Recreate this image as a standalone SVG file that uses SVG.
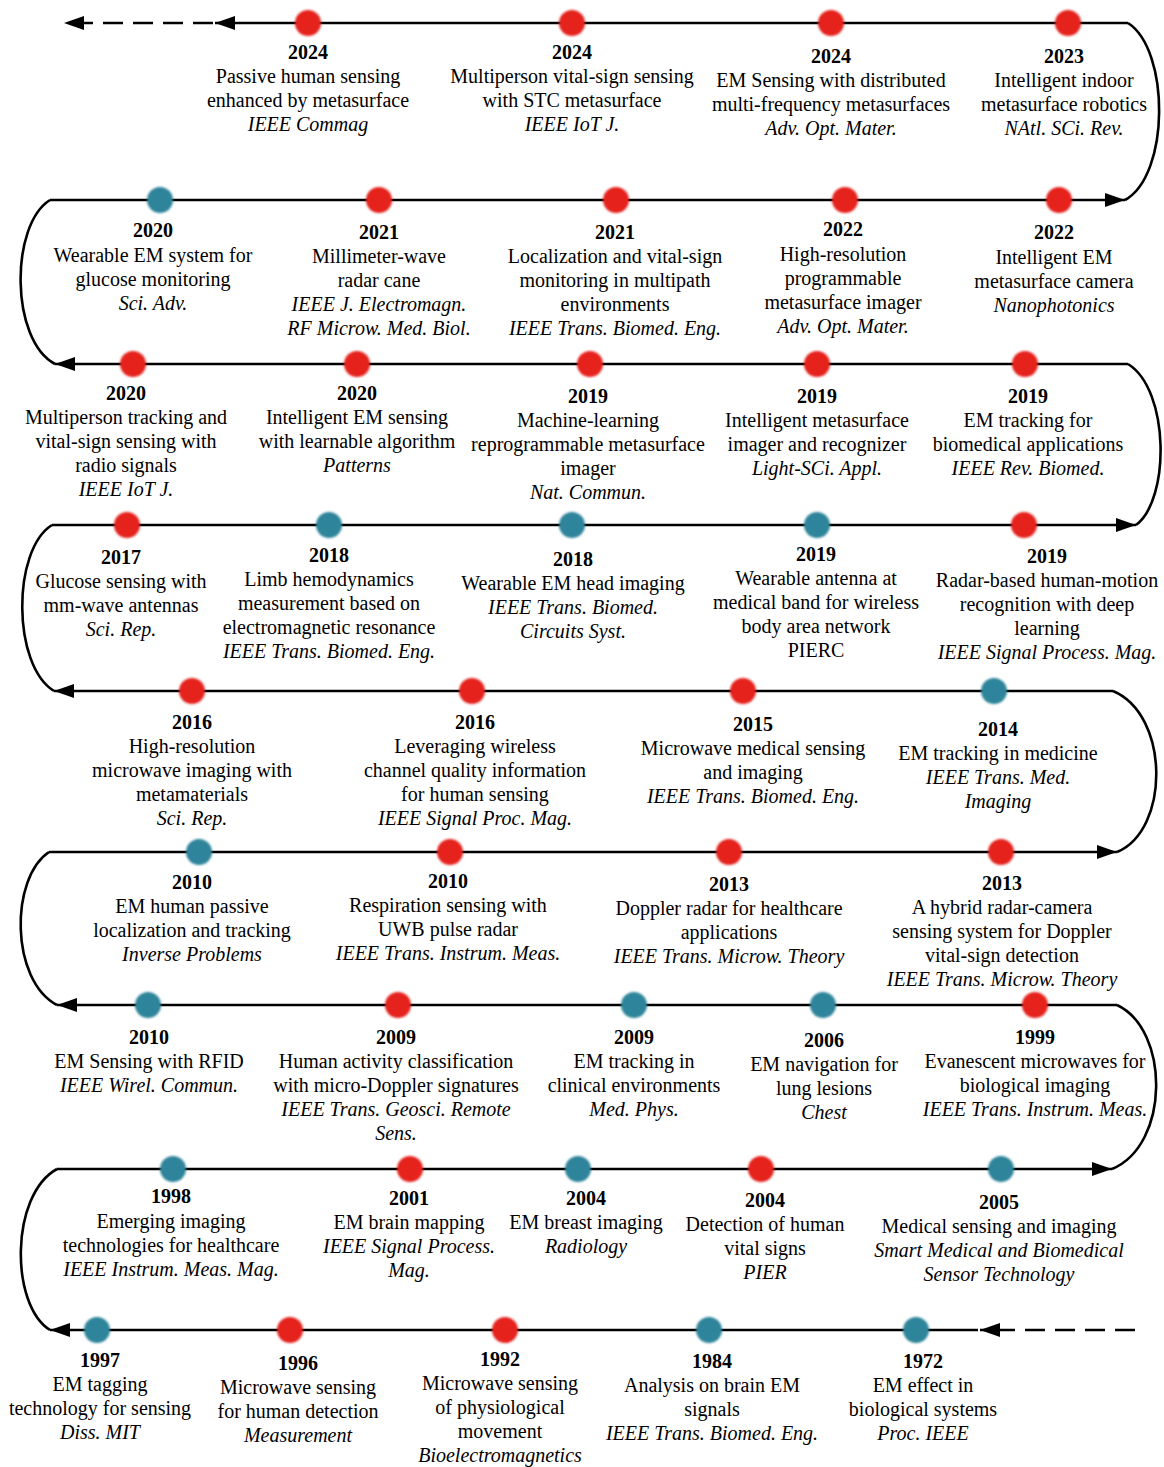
<svg xmlns="http://www.w3.org/2000/svg" width="1164" height="1467" viewBox="0 0 1164 1467">
<style>
text{font-family:"Liberation Serif","Times New Roman",serif;font-size:20px;fill:#000;text-anchor:middle;dominant-baseline:central}
.y{font-weight:bold}
.j{font-style:italic}
.ln{fill:none;stroke:#000;stroke-width:2.6}
.ds{fill:none;stroke:#000;stroke-width:2.6;stroke-dasharray:20 10}
.r{fill:#e5221d;filter:url(#bl)}
.b{fill:#2f849a;filter:url(#bl)}
</style>
<defs>
<filter id="bl" x="-30%" y="-30%" width="160%" height="160%"><feGaussianBlur stdDeviation="1.1"/></filter>
<marker id="ah" viewBox="0 0 20 14" refX="20" refY="7" markerWidth="20" markerHeight="14" markerUnits="userSpaceOnUse" orient="auto"><path d="M0,0 L20,7 L0,14 Z" fill="#000"/></marker>
</defs>
<g id="connectors">
<path class="ds" d="M213,23 H64" marker-end="url(#ah)"/>
<path class="ln" d="M1128,23 H215" marker-end="url(#ah)"/>
<path class="ln" d="M1128,23 C1170,50 1170,175 1125,200"/>
<path class="ln" d="M50,200 H1125" marker-end="url(#ah)"/>
<path class="ln" d="M50,200 C10,225 10,340 55,364"/>
<path class="ln" d="M1128,364 H55" marker-end="url(#ah)"/>
<path class="ln" d="M1128,364 C1170,390 1170,500 1136,525"/>
<path class="ln" d="M52,525 H1136" marker-end="url(#ah)"/>
<path class="ln" d="M52,525 C12,550 12,665 54,691"/>
<path class="ln" d="M1113,691 H54" marker-end="url(#ah)"/>
<path class="ln" d="M1113,691 C1170,715 1170,830 1117,852"/>
<path class="ln" d="M49,852 H1117" marker-end="url(#ah)"/>
<path class="ln" d="M49,852 C10,878 10,980 57,1005"/>
<path class="ln" d="M1117,1005 H57" marker-end="url(#ah)"/>
<path class="ln" d="M1117,1005 C1170,1030 1170,1145 1112,1169"/>
<path class="ln" d="M57,1169 H1112" marker-end="url(#ah)"/>
<path class="ln" d="M57,1169 C10,1195 10,1305 50,1330"/>
<path class="ds" d="M1135,1330 H980" marker-end="url(#ah)"/>
<path class="ln" d="M978,1330 H50" marker-end="url(#ah)"/>
</g>

<g id="n1"><circle class="r" cx="308" cy="23" r="13"/><text class="y" x="308" y="52">2024</text><text x="308" y="76">Passive human sensing</text><text x="308" y="100">enhanced by metasurface</text><text class="j" x="308" y="124">IEEE Commag</text></g>
<g id="n2"><circle class="r" cx="572" cy="23" r="13"/><text class="y" x="572" y="52">2024</text><text x="572" y="76">Multiperson vital-sign sensing</text><text x="572" y="100">with STC metasurface</text><text class="j" x="572" y="124">IEEE IoT J.</text></g>
<g id="n3"><circle class="r" cx="831" cy="23" r="13"/><text class="y" x="831" y="56">2024</text><text x="831" y="80">EM Sensing with distributed</text><text x="831" y="104">multi-frequency metasurfaces</text><text class="j" x="831" y="128">Adv. Opt. Mater.</text></g>
<g id="n4"><circle class="r" cx="1068" cy="23" r="13"/><text class="y" x="1064" y="56">2023</text><text x="1064" y="80">Intelligent indoor</text><text x="1064" y="104">metasurface robotics</text><text class="j" x="1064" y="128">NAtl. SCi. Rev.</text></g>

<g id="n5"><circle class="b" cx="160" cy="200" r="13"/><text class="y" x="153" y="230">2020</text><text x="153" y="255">Wearable EM system for</text><text x="153" y="279">glucose monitoring</text><text class="j" x="153" y="303">Sci. Adv.</text></g>
<g id="n6"><circle class="r" cx="379" cy="200" r="13"/><text class="y" x="379" y="232">2021</text><text x="379" y="256">Millimeter-wave</text><text x="379" y="280">radar cane</text><text class="j" x="379" y="304">IEEE J. Electromagn.</text><text class="j" x="379" y="328">RF Microw. Med. Biol.</text></g>
<g id="n7"><circle class="r" cx="616" cy="200" r="13"/><text class="y" x="615" y="232">2021</text><text x="615" y="256">Localization and vital-sign</text><text x="615" y="280">monitoring in multipath</text><text x="615" y="304">environments</text><text class="j" x="615" y="328">IEEE Trans. Biomed. Eng.</text></g>
<g id="n8"><circle class="r" cx="845" cy="200" r="13"/><text class="y" x="843" y="229">2022</text><text x="843" y="254">High-resolution</text><text x="843" y="278">programmable</text><text x="843" y="302">metasurface imager</text><text class="j" x="843" y="326">Adv. Opt. Mater.</text></g>
<g id="n9"><circle class="r" cx="1059" cy="200" r="13"/><text class="y" x="1054" y="232">2022</text><text x="1054" y="257">Intelligent EM</text><text x="1054" y="281">metasurface camera</text><text class="j" x="1054" y="305">Nanophotonics</text></g>

<g id="n10"><circle class="r" cx="133" cy="364" r="13"/><text class="y" x="126" y="393">2020</text><text x="126" y="417">Multiperson tracking and</text><text x="126" y="441">vital-sign sensing with</text><text x="126" y="465">radio signals</text><text class="j" x="126" y="489">IEEE IoT J.</text></g>
<g id="n11"><circle class="r" cx="357" cy="364" r="13"/><text class="y" x="357" y="393">2020</text><text x="357" y="417">Intelligent EM sensing</text><text x="357" y="441">with learnable algorithm</text><text class="j" x="357" y="465">Patterns</text></g>
<g id="n12"><circle class="r" cx="590" cy="364" r="13"/><text class="y" x="588" y="396">2019</text><text x="588" y="420">Machine-learning</text><text x="588" y="444">reprogrammable metasurface</text><text x="588" y="468">imager</text><text class="j" x="588" y="492">Nat. Commun.</text></g>
<g id="n13"><circle class="r" cx="817" cy="364" r="13"/><text class="y" x="817" y="396">2019</text><text x="817" y="420">Intelligent metasurface</text><text x="817" y="444">imager and recognizer</text><text class="j" x="817" y="468">Light-SCi. Appl.</text></g>
<g id="n14"><circle class="r" cx="1025" cy="364" r="13"/><text class="y" x="1028" y="396">2019</text><text x="1028" y="420">EM tracking for</text><text x="1028" y="444">biomedical applications</text><text class="j" x="1028" y="468">IEEE Rev. Biomed.</text></g>

<g id="n15"><circle class="r" cx="127" cy="525" r="13"/><text class="y" x="121" y="557">2017</text><text x="121" y="581">Glucose sensing with</text><text x="121" y="605">mm-wave antennas</text><text class="j" x="121" y="629">Sci. Rep.</text></g>
<g id="n16"><circle class="b" cx="329" cy="525" r="13"/><text class="y" x="329" y="555">2018</text><text x="329" y="579">Limb hemodynamics</text><text x="329" y="603">measurement based on</text><text x="329" y="627">electromagnetic resonance</text><text class="j" x="329" y="651">IEEE Trans. Biomed. Eng.</text></g>
<g id="n17"><circle class="b" cx="572" cy="525" r="13"/><text class="y" x="573" y="559">2018</text><text x="573" y="583">Wearable EM head imaging</text><text class="j" x="573" y="607">IEEE Trans. Biomed.</text><text class="j" x="573" y="631">Circuits Syst.</text></g>
<g id="n18"><circle class="b" cx="817" cy="525" r="13"/><text class="y" x="816" y="554">2019</text><text x="816" y="578">Wearable antenna at</text><text x="816" y="602">medical band for wireless</text><text x="816" y="626">body area network</text><text x="816" y="650">PIERC</text></g>
<g id="n19"><circle class="r" cx="1024" cy="525" r="13"/><text class="y" x="1047" y="556">2019</text><text x="1047" y="580">Radar-based human-motion</text><text x="1047" y="604">recognition with deep</text><text x="1047" y="628">learning</text><text class="j" x="1047" y="652">IEEE Signal Process. Mag.</text></g>

<g id="n20"><circle class="r" cx="192" cy="691" r="13"/><text class="y" x="192" y="722">2016</text><text x="192" y="746">High-resolution</text><text x="192" y="770">microwave imaging with</text><text x="192" y="794">metamaterials</text><text class="j" x="192" y="818">Sci. Rep.</text></g>
<g id="n21"><circle class="r" cx="472" cy="691" r="13"/><text class="y" x="475" y="722">2016</text><text x="475" y="746">Leveraging wireless</text><text x="475" y="770">channel quality information</text><text x="475" y="794">for human sensing</text><text class="j" x="475" y="818">IEEE Signal Proc. Mag.</text></g>
<g id="n22"><circle class="r" cx="743" cy="691" r="13"/><text class="y" x="753" y="724">2015</text><text x="753" y="748">Microwave medical sensing</text><text x="753" y="772">and imaging</text><text class="j" x="753" y="796">IEEE Trans. Biomed. Eng.</text></g>
<g id="n23"><circle class="b" cx="994" cy="691" r="13"/><text class="y" x="998" y="729">2014</text><text x="998" y="753">EM tracking in medicine</text><text class="j" x="998" y="777">IEEE Trans. Med.</text><text class="j" x="998" y="801">Imaging</text></g>

<g id="n24"><circle class="b" cx="199" cy="852" r="13"/><text class="y" x="192" y="882">2010</text><text x="192" y="906">EM human passive</text><text x="192" y="930">localization and tracking</text><text class="j" x="192" y="954">Inverse Problems</text></g>
<g id="n25"><circle class="r" cx="450" cy="852" r="13"/><text class="y" x="448" y="881">2010</text><text x="448" y="905">Respiration sensing with</text><text x="448" y="929">UWB pulse radar</text><text class="j" x="448" y="953">IEEE Trans. Instrum. Meas.</text></g>
<g id="n26"><circle class="r" cx="729" cy="852" r="13"/><text class="y" x="729" y="884">2013</text><text x="729" y="908">Doppler radar for healthcare</text><text x="729" y="932">applications</text><text class="j" x="729" y="956">IEEE Trans. Microw. Theory</text></g>
<g id="n27"><circle class="r" cx="1001" cy="852" r="13"/><text class="y" x="1002" y="883">2013</text><text x="1002" y="907">A hybrid radar-camera</text><text x="1002" y="931">sensing system for Doppler</text><text x="1002" y="955">vital-sign detection</text><text class="j" x="1002" y="979">IEEE Trans. Microw. Theory</text></g>

<g id="n28"><circle class="b" cx="148" cy="1005" r="13"/><text class="y" x="149" y="1037">2010</text><text x="149" y="1061">EM Sensing with RFID</text><text class="j" x="149" y="1085">IEEE Wirel. Commun.</text></g>
<g id="n29"><circle class="r" cx="398" cy="1005" r="13"/><text class="y" x="396" y="1037">2009</text><text x="396" y="1061">Human activity classification</text><text x="396" y="1085">with micro-Doppler signatures</text><text class="j" x="396" y="1109">IEEE Trans. Geosci. Remote</text><text class="j" x="396" y="1133">Sens.</text></g>
<g id="n30"><circle class="b" cx="634" cy="1005" r="13"/><text class="y" x="634" y="1037">2009</text><text x="634" y="1061">EM tracking in</text><text x="634" y="1085">clinical environments</text><text class="j" x="634" y="1109">Med. Phys.</text></g>
<g id="n31"><circle class="b" cx="823" cy="1005" r="13"/><text class="y" x="824" y="1040">2006</text><text x="824" y="1064">EM navigation for</text><text x="824" y="1088">lung lesions</text><text class="j" x="824" y="1112">Chest</text></g>
<g id="n32"><circle class="r" cx="1035" cy="1005" r="13"/><text class="y" x="1035" y="1037">1999</text><text x="1035" y="1061">Evanescent microwaves for</text><text x="1035" y="1085">biological imaging</text><text class="j" x="1035" y="1109">IEEE Trans. Instrum. Meas.</text></g>

<g id="n33"><circle class="b" cx="173" cy="1169" r="13"/><text class="y" x="171" y="1196">1998</text><text x="171" y="1221">Emerging imaging</text><text x="171" y="1245">technologies for healthcare</text><text class="j" x="171" y="1269">IEEE Instrum. Meas. Mag.</text></g>
<g id="n34"><circle class="r" cx="410" cy="1169" r="13"/><text class="y" x="409" y="1198">2001</text><text x="409" y="1222">EM brain mapping</text><text class="j" x="409" y="1246">IEEE Signal Process.</text><text class="j" x="409" y="1270">Mag.</text></g>
<g id="n35"><circle class="b" cx="578" cy="1169" r="13"/><text class="y" x="586" y="1198">2004</text><text x="586" y="1222">EM breast imaging</text><text class="j" x="586" y="1246">Radiology</text></g>
<g id="n36"><circle class="r" cx="761" cy="1169" r="13"/><text class="y" x="765" y="1200">2004</text><text x="765" y="1224">Detection of human</text><text x="765" y="1248">vital signs</text><text class="j" x="765" y="1272">PIER</text></g>
<g id="n37"><circle class="b" cx="1001" cy="1169" r="13"/><text class="y" x="999" y="1202">2005</text><text x="999" y="1226">Medical sensing and imaging</text><text class="j" x="999" y="1250">Smart Medical and Biomedical</text><text class="j" x="999" y="1274">Sensor Technology</text></g>

<g id="n38"><circle class="b" cx="97" cy="1330" r="13"/><text class="y" x="100" y="1360">1997</text><text x="100" y="1384">EM tagging</text><text x="100" y="1408">technology for sensing</text><text class="j" x="100" y="1432">Diss. MIT</text></g>
<g id="n39"><circle class="r" cx="290" cy="1330" r="13"/><text class="y" x="298" y="1363">1996</text><text x="298" y="1387">Microwave sensing</text><text x="298" y="1411">for human detection</text><text class="j" x="298" y="1435">Measurement</text></g>
<g id="n40"><circle class="r" cx="505" cy="1330" r="13"/><text class="y" x="500" y="1359">1992</text><text x="500" y="1383">Microwave sensing</text><text x="500" y="1407">of physiological</text><text x="500" y="1431">movement</text><text class="j" x="500" y="1455">Bioelectromagnetics</text></g>
<g id="n41"><circle class="b" cx="709" cy="1330" r="13"/><text class="y" x="712" y="1361">1984</text><text x="712" y="1385">Analysis on brain EM</text><text x="712" y="1409">signals</text><text class="j" x="712" y="1433">IEEE Trans. Biomed. Eng.</text></g>
<g id="n42"><circle class="b" cx="916" cy="1330" r="13"/><text class="y" x="923" y="1361">1972</text><text x="923" y="1385">EM effect in</text><text x="923" y="1409">biological systems</text><text class="j" x="923" y="1433">Proc. IEEE</text></g>
</svg>
